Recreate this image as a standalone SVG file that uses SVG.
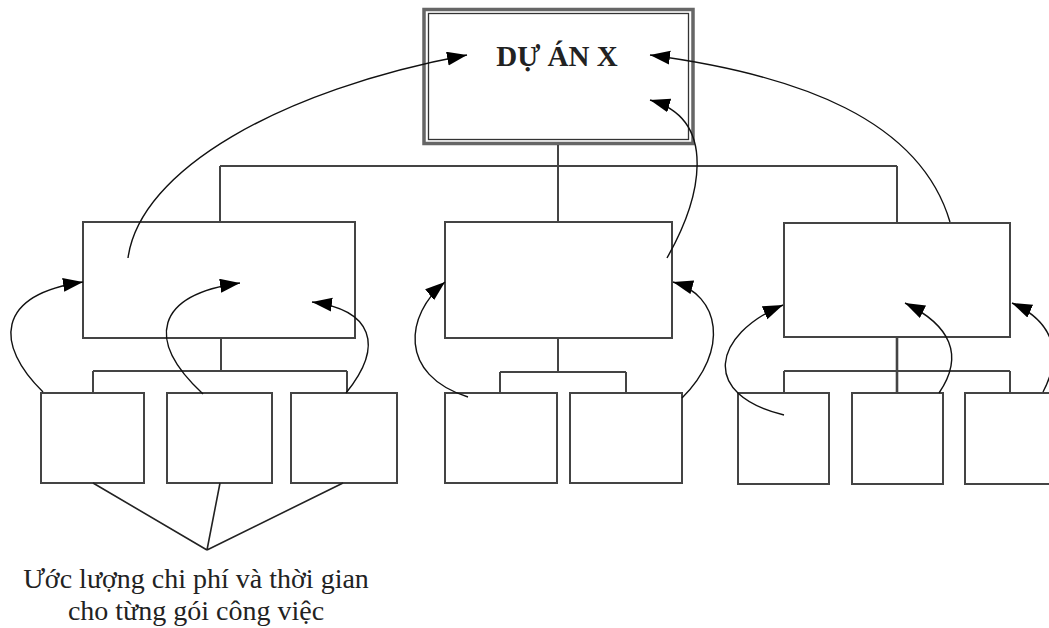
<svg xmlns="http://www.w3.org/2000/svg" width="1049" height="628" viewBox="0 0 1049 628">
<defs>
<marker id="ah" markerUnits="userSpaceOnUse" markerWidth="22" markerHeight="16" refX="20" refY="7" orient="auto">
<path d="M0,0 L20,7 L0,14 z" fill="#000"/>
</marker>
<style>
.box{fill:#fff;stroke:#444;stroke-width:2}
.ln{fill:none;stroke:#444;stroke-width:2}
.arr{fill:none;stroke:#111;stroke-width:1.4;marker-end:url(#ah)}
.ptr{fill:none;stroke:#222;stroke-width:1.6}
.t{font-family:"Liberation Serif","Times New Roman",serif;fill:#222}
</style>
</defs>
<rect width="1049" height="628" fill="#fff"/>
<g id="root">
<rect x="424" y="9.5" width="269" height="134" fill="#fff" stroke="#666" stroke-width="3.5"/>
<rect x="428.5" y="13.5" width="260" height="126" fill="none" stroke="#333" stroke-width="1.3"/>
<text class="t" x="557" y="66" text-anchor="middle" font-size="29" font-weight="bold" fill="#111">DỰ ÁN X</text>
</g>
<g id="branch1"><rect class="box" x="83" y="222" width="272" height="116"/></g>
<g id="branch2"><rect class="box" x="445" y="222" width="227" height="116"/></g>
<g id="branch3"><rect class="box" x="784" y="223" width="226" height="114"/></g>
<g id="wp1"><rect class="box" x="41" y="393" width="103" height="90"/></g>
<g id="wp2"><rect class="box" x="167" y="393" width="105" height="90"/></g>
<g id="wp3"><rect class="box" x="291" y="393" width="106" height="90"/></g>
<g id="wp4"><rect class="box" x="445" y="393" width="112" height="90"/></g>
<g id="wp5"><rect class="box" x="570" y="393" width="112" height="90"/></g>
<g id="wp6"><rect class="box" x="738" y="393" width="91" height="91"/></g>
<g id="wp7"><rect class="box" x="852" y="393" width="91" height="91"/></g>
<g id="wp8"><rect class="box" x="965" y="393" width="100" height="91"/></g>
<g id="note">
<text class="t" x="196" y="588" text-anchor="middle" font-size="28">Ước lượng chi phí và thời gian</text>
<text class="t" x="196" y="620" text-anchor="middle" font-size="28">cho từng gói công việc</text>
</g>
<g id="connectors">
<path class="ln" d="M558,145 V166 M220,166 H897 M220,166 V222 M558,166 V222 M897,166 V223"/>
<path class="ln" d="M221,338 V371 M93,371 H347 M93,371 V393 M347,371 V393"/>
<path class="ln" d="M558,338 V372 M500,372 H626 M500,372 V393 M626,372 V393"/>
<path class="ln" d="M784,371 H1010 M784,371 V393 M1010,371 V393"/>
<path class="ln" style="stroke-width:2.6" d="M897,337 V393"/>
<path class="ptr" d="M93,483 L207,550 M220,483 L207,550 M343,483 L207,550"/>
<path class="arr" d="M128,258 C140,170 280,90 467,55"/>
<path class="arr" d="M950,222 C920,120 800,75 650,55"/>
<path class="arr" d="M667,258 C700,200 720,120 650,100"/>
<path class="arr" d="M43,392 C-5,345 -5,295 83,282"/>
<path class="arr" d="M203,394 C145,340 155,295 240,283"/>
<path class="arr" d="M346,393 C385,345 372,310 312,302"/>
<path class="arr" d="M468,397 C398,375 405,315 445,282"/>
<path class="arr" d="M682,398 C730,350 720,295 673,282"/>
<path class="arr" d="M784,415 C700,395 712,335 783,305"/>
<path class="arr" d="M939,393 C965,355 950,325 905,303"/>
<path class="arr" d="M1043,392 C1065,350 1050,320 1012,303"/>
</g>
</svg>
